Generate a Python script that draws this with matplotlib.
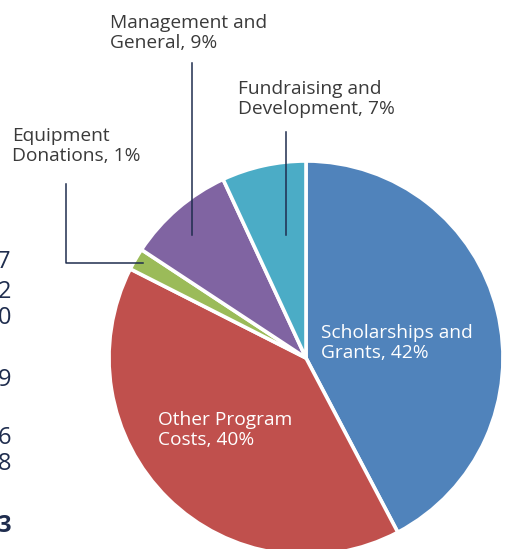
import matplotlib
matplotlib.use("Agg")
import matplotlib.pyplot as plt

W, H = 506, 549

# slice data, clockwise from 12 o'clock
categories = [
    "Scholarships and\nGrants, 42%",
    "Other Program\nCosts, 40%",
    "Equipment\nDonations, 1%",
    "Management and\nGeneral, 9%",
    "Fundraising and\nDevelopment, 7%",
]
shares = [42.2, 40.1, 1.8, 8.8, 6.9]
colors = ["#5083BB", "#C0504D", "#9BBB59", "#8064A2", "#4BACC6"]

# digits of the neighbouring table that are cut off at the left edge
edge_digits = ["7", "2", "0", "9", "6", "8", "3"]
edge_digit_y = [262, 292, 318, 380, 438, 464, 526]

TEXT = "#3a3a3a"
LINE = "#1F2D4E"
FONT = ["Open Sans", "DejaVu Sans"]
FS = 13.8
LS = 1.2


def py(y):
    # pixel row (from top) -> data y
    return H - y


fig = plt.figure(figsize=(W / 100, H / 100), dpi=100)
ax = fig.add_axes([0, 0, 1, 1])

ax.pie(
    shares,
    colors=colors,
    startangle=90,
    counterclock=False,
    center=(306, py(358)),
    radius=197,
    wedgeprops={"edgecolor": "white", "linewidth": 2.6},
)
ax.set_xlim(0, W)
ax.set_ylim(0, H)
ax.set_aspect("equal")
ax.axis("off")

# labels inside the pie
ax.text(321, py(343), categories[0], color="white", fontsize=FS, family=FONT,
        ha="left", va="center", linespacing=LS)
ax.text(158, py(430), categories[1], color="white", fontsize=FS, family=FONT,
        ha="left", va="center", linespacing=LS)

# callout labels
ax.text(12, py(146), categories[2], color=TEXT, fontsize=FS, family=FONT,
        ha="left", va="center", linespacing=LS)
ax.text(110, py(33), categories[3], color=TEXT, fontsize=FS, family=FONT,
        ha="left", va="center", linespacing=LS)
ax.text(238, py(99), categories[4], color=TEXT, fontsize=FS, family=FONT,
        ha="left", va="center", linespacing=LS)

# leader lines
ax.plot([66, 66, 143], [py(184), py(263), py(263)], color=LINE, lw=1.1)
ax.plot([192, 192], [py(63), py(235)], color=LINE, lw=1.1)
ax.plot([286, 286], [py(132), py(235)], color=LINE, lw=1.1)

# cut-off table digits, partly outside the canvas
for d, y in zip(edge_digits, edge_digit_y):
    ax.text(11, py(y), d, color=LINE, fontsize=17, family=FONT, ha="right", va="center",
            fontweight="bold" if d == "3" else "normal", clip_on=False)

fig.savefig("out.png", dpi=100)
